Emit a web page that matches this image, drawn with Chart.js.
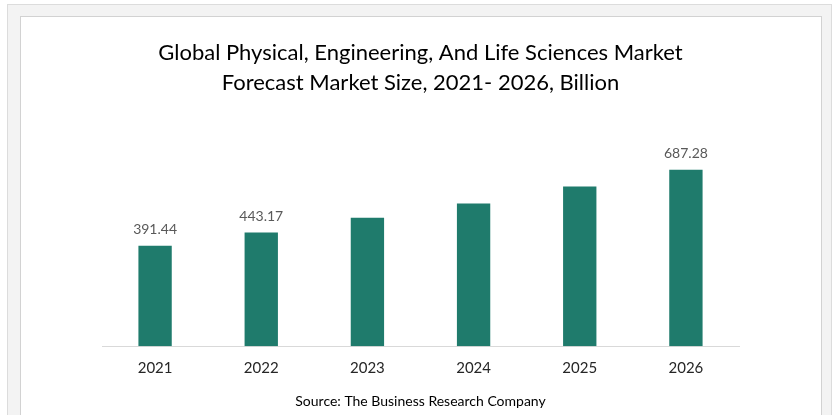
<!DOCTYPE html>
<html>
<head>
<meta charset="utf-8">
<script src="https://cdn.jsdelivr.net/npm/chart.js@4"></script>
<style>
  html, body { margin: 0; padding: 0; background: #ffffff; }
  body { width: 836px; height: 415px; position: relative; overflow: hidden; }
  #outer { position: absolute; left: 7px; top: 4px; width: 825px; height: 430px; background: #f3f3f3; border: 1px solid #dcdcdc; box-sizing: border-box; }
  #inner { position: absolute; left: 20px; top: 16px; width: 802px; height: 430px; background: #ffffff; border: 1.5px solid #d2d2d2; box-sizing: border-box; }
  #wrap { position: absolute; left: 0; top: 0; width: 836px; height: 415px; }
</style>
</head>
<body>
<div id="outer"></div>
<div id="inner"></div>
<div id="wrap"><canvas id="c" width="836" height="415"></canvas></div>
<script>
const categories = ["2021", "2022", "2023", "2024", "2025", "2026"];
const marketSize = [391.44, 443.17, 500.0, 556.0, 622.0, 687.28];
const shownLabels = ["391.44", "443.17", null, null, null, "687.28"];
const titleLines = ["Global Physical, Engineering, And Life Sciences Market", "Forecast Market Size, 2021- 2026, Billion"];
const sourceText = "Source: The Business Research Company";

const FONT = "Lato, 'Open Sans', sans-serif";

const valueLabels = {
  id: 'valueLabels',
  afterDatasetsDraw(chart) {
    const ctx = chart.ctx;
    const meta = chart.getDatasetMeta(0);
    ctx.save();
    ctx.font = "14px " + FONT;
    ctx.fillStyle = "#595959";
    ctx.textAlign = "center";
    ctx.textBaseline = "bottom";
    meta.data.forEach((bar, i) => {
      const t = shownLabels[i];
      if (t) ctx.fillText(t, bar.x, bar.y - 9);
    });
    ctx.restore();
  }
};

new Chart(document.getElementById('c'), {
  type: 'bar',
  data: {
    labels: categories,
    datasets: [{
      data: marketSize,
      backgroundColor: '#1f7b6c',
      borderWidth: 0,
      categoryPercentage: 1.0,
      barPercentage: 0.314
    }]
  },
  options: {
    responsive: false,
    animation: false,
    devicePixelRatio: 1,
    layout: { padding: { left: 102, right: 97, top: 0, bottom: 5 } },
    plugins: {
      legend: { display: false },
      tooltip: { enabled: false },
      title: {
        display: true,
        text: titleLines,
        color: '#000000',
        font: { family: FONT, size: 22, weight: 'normal', lineHeight: 1.36 },
        padding: { top: 38, bottom: 43 }
      },
      subtitle: {
        display: true,
        position: 'bottom',
        text: sourceText,
        color: '#000000',
        font: { family: FONT, size: 14, weight: 'normal', lineHeight: 1.2 },
        padding: { top: 3, bottom: 0 }
      }
    },
    scales: {
      x: {
        grid: { display: true, color: 'rgba(0,0,0,0)', drawTicks: false },
        border: { display: true, color: '#d9d9d9', width: 1 },
        ticks: { color: '#262626', font: { family: FONT, size: 15 }, padding: 13 }
      },
      y: {
        display: false,
        min: 0,
        max: 800
      }
    }
  },
  plugins: [valueLabels]
});
</script>
</body>
</html>
